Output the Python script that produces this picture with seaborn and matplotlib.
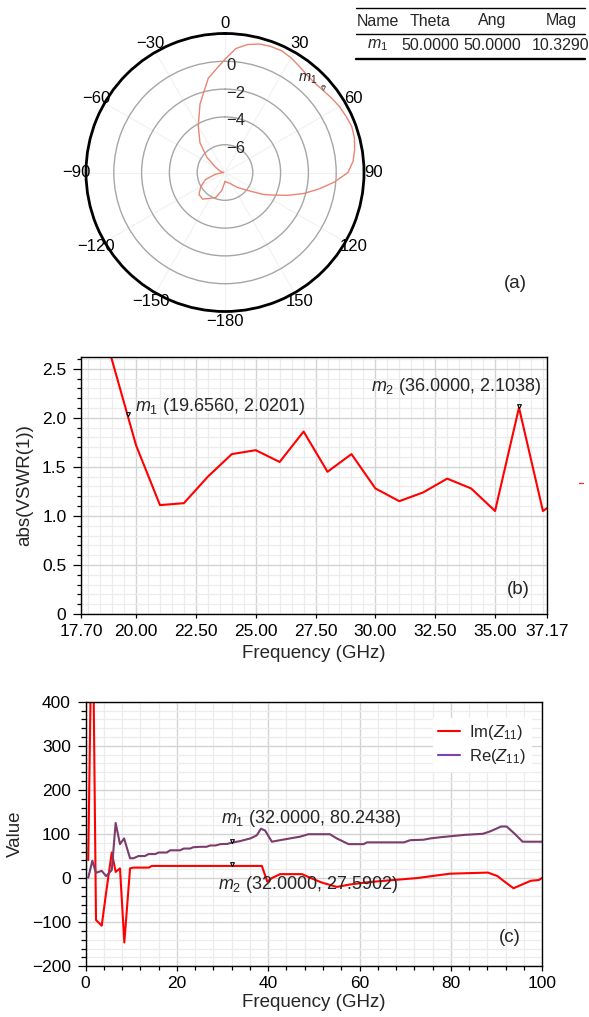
import numpy as np
import pandas as pd
import matplotlib
matplotlib.use("Agg")
import matplotlib.pyplot as plt
from matplotlib.lines import Line2D
from matplotlib.ticker import MultipleLocator
import seaborn as sns

# ---------------- (a) radiation pattern ----------------
pattern_theta = [-180, -170, -160, -150, -140, -130, -120, -110, -100, -90,
                 -80, -70, -60, -50, -40, -30, -20, -10, 0, 5, 10, 15, 20,
                 25, 30, 35, 40, 45, 50, 55, 60, 65, 70, 75, 80, 85, 90, 95,
                 100, 105, 110, 115, 120, 130, 140, 150, 160, 170, 180]
pattern_gain = [-7.35, -6.7, -6.1, -5.85, -5.5, -5.55, -6.0, -6.5, -7.3, -7.9,
                -7.75, -7.55, -7.2, -6.3, -5.2, -4.15, -2.75, -1.1, 0.15, 0.95,
                1.35, 1.57, 1.65, 1.66, 1.52, 1.32, 1.17, 1.12, 1.2, 1.35, 1.5,
                1.6, 1.7, 1.64, 1.47, 1.25, 0.85, -0.1, -1.15, -2.15, -3.2,
                -4.15, -4.85, -6.05, -6.6, -7.0, -7.2, -7.3, -7.35]
pattern_rings = [-6, -4, -2, 0]
pattern_angle_ticks = [0, 30, 60, 90, 120, 150, 180, 210, 240, 270, 300, 330]
pattern_angle_labels = ["0", "30", "60", "90", "120", "150", "\u2212180",
                        "\u2212150", "\u2212120", "\u221290", "\u221260", "\u221230"]

table_columns = ["Name", "Theta", "Ang", "Mag"]
marker_a_name = ["$m_1$"]
marker_a_theta = [50.0]
marker_a_ang = [50.0]
marker_a_mag = [10.3290]

# ---------------- (b) VSWR ----------------
vswr_freq = [18, 19, 20, 21, 22, 23, 24, 25, 26, 27, 28, 29, 30, 31, 32,
             33, 34, 35, 36, 37, 38]
vswr_value = [3.40, 2.585, 1.72, 1.11, 1.13, 1.40, 1.63, 1.67, 1.55, 1.86,
              1.45, 1.63, 1.28, 1.15, 1.24, 1.38, 1.28, 1.05, 2.1038, 1.05, 1.22]
vswr_marker_freq = [19.656, 36.0]
vswr_marker_value = [2.0201, 2.1038]
vswr_xticks = [17.70, 20.00, 22.50, 25.00, 27.50, 30.00, 32.50, 35.00, 37.17]
vswr_yticks = [0, 0.5, 1.0, 1.5, 2.0, 2.5]

# ---------------- (c) input impedance ----------------
im_freq = [0.6, 1.5, 2.3, 3.55, 4.5, 5.75, 6.6, 7.55, 8.5, 9.75, 10.5, 13.9,
           14.5, 38.6, 39.8, 40.8, 42.6, 47.4, 48.8, 51.7, 55.0, 57.9, 61.6,
           66.7, 72.5, 75.4, 79.8, 88.1, 90.2, 91.8, 93.7, 95.7, 97.5, 99.2, 100.0]
im_value = [41, 700, -95, -108, -34, 58, 14, 22, -146, 22, 23.8, 23.8,
            27.6, 27.6, -8, 0, 9, 9, 2.5, -10, -20, -14.5, -9.5, -5, 0, 4,
            10, 12.5, 4.5, -8.5, -23, -14, -6, -4.5, 0.7]
re_freq = [0.6, 1.5, 2.3, 3.55, 4.5, 5.75, 6.6, 7.55, 8.45, 9.75, 10.5, 11.6,
           13.0, 13.8, 15.3, 16.0, 17.8, 18.5, 20.7, 21.5, 22.9, 23.6, 25.1,
           26.5, 27.3, 28.5, 29.5, 31.0, 32.0, 33.9, 36.1, 37.5, 38.4, 39.3,
           40.8, 42.6, 44.8, 47.0, 48.8, 53.5, 55.0, 57.6, 60.9, 61.6, 69.7,
           71.1, 74.0, 75.5, 78.0, 82.0, 83.0, 87.0, 88.6, 91.0, 92.2, 93.9,
           95.7, 100.0]
re_value = [1, 39.5, 12, 16.5, 4.5, 18, 125, 77, 90, 45, 45, 50, 50, 54.5,
            54.5, 58, 58, 63, 63, 67, 67, 70, 71, 71, 74, 74, 77, 77.5, 80.24,
            84, 90, 97, 112, 108, 82.5, 86, 90, 94, 99.5, 99.5, 90, 77, 77, 81,
            81, 86, 87, 90, 93, 97, 98, 100.5, 106, 117, 117, 101, 82.5, 82.5]
z_marker_freq = [32.0, 32.0]
z_marker_value = [80.2438, 27.5902]

# ---------------- styling ----------------
sns.set_theme(style="white")
plt.rcParams["font.family"] = ["Liberation Sans", "DejaVu Sans"]
plt.rcParams["mathtext.fontset"] = "custom"
plt.rcParams["mathtext.rm"] = "Liberation Sans"
plt.rcParams["mathtext.it"] = "Liberation Sans:italic"
plt.rcParams["axes.unicode_minus"] = True

W, H = 589, 1017
fig = plt.figure(figsize=(W / 100, H / 100), dpi=100)
fig.patch.set_facecolor("white")


def box(left, top, right, bottom):
    return [left / W, 1 - bottom / H, (right - left) / W, (bottom - top) / H]


# tip-anchored downward triangle used for the markers
TRI = [(0, 0), (-0.62, 1.25), (0.62, 1.25), (0, 0)]
MAJOR_GRID = "#d3d3d3"
MINOR_GRID = "#ececec"

# ================= (a) polar pattern =================
axp = fig.add_axes(box(86, 33.5, 364, 311.5), projection="polar")
axp.set_theta_zero_location("N")
axp.set_theta_direction(-1)
sns.lineplot(x=np.deg2rad(pattern_theta), y=pattern_gain, ax=axp,
             color="#ea8474", lw=1.0, sort=False)
axp.set_rlim(-8, 2)
axp.set_yticks(pattern_rings)
axp.set_yticklabels([])
axp.set_thetagrids(pattern_angle_ticks, pattern_angle_labels)
axp.yaxis.grid(True, color="#a6a6a6", lw=1.0)
axp.xaxis.grid(True, color="#f1f1f1", lw=0.8)
axp.spines["polar"].set_linewidth(2.0)
axp.spines["polar"].set_color("black")
axp.tick_params(axis="x", direction="in", length=4, width=0.8,
                color="#b5b5b5", pad=0, labelsize=12, labelcolor="black")
axp.set_xlabel("")
axp.set_ylabel("")
for v in pattern_rings:
    axp.annotate(f"{v}".replace("-", "\u2212"), xy=(0, v), xytext=(1, 2.5),
                 textcoords="offset points", ha="left", va="top", fontsize=12)

mk_r = np.interp(marker_a_theta, pattern_theta, pattern_gain)
axp.plot(np.deg2rad(marker_a_theta), mk_r, ls="none", marker=TRI, ms=6,
         mfc="white", mec="#777777", mew=0.8)
for th, r, name in zip(marker_a_theta, mk_r, marker_a_name):
    axp.annotate(name, xy=(np.deg2rad(th), r), xytext=(-11, 8),
                 textcoords="offset points", ha="center", va="center",
                 fontsize=10.5)

fig.text(515 / W, 1 - 283 / H, "(a)", ha="center", va="center", fontsize=13.5)

# marker table
col_x = [378, 430, 492, 561]
for x, txt in zip(col_x, table_columns):
    fig.text(x / W, 1 - 21 / H, txt, ha="center", va="center", fontsize=11.5)
row = [marker_a_name[0], f"{marker_a_theta[0]:.4f}", f"{marker_a_ang[0]:.4f}",
       f"{marker_a_mag[0]:.4f}"]
for x, txt in zip(col_x, row):
    fig.text(x / W, 1 - 45 / H, txt, ha="center", va="center", fontsize=11.5)
for y, lw in [(8.3, 1.0), (34, 1.0), (59, 1.7)]:
    fig.add_artist(Line2D([356 / W, 585 / W], [1 - y / H] * 2, color="black",
                          lw=lw, transform=fig.transFigure))


def style_cartesian(ax, ymajor_len, yminor_len, xmajor_len, xminor_len):
    ax.set_axisbelow(True)
    ax.grid(which="major", color=MAJOR_GRID, lw=1.0)
    ax.grid(which="minor", color=MINOR_GRID, lw=0.9)
    for s in ax.spines.values():
        s.set_color("black")
        s.set_linewidth(1.0)
    ax.tick_params(axis="both", which="both", direction="out", color="black",
                   bottom=True, left=True, top=False, right=False, width=0.9,
                   labelsize=12.5, labelcolor="black")
    ax.tick_params(axis="y", which="major", length=ymajor_len, pad=5)
    ax.tick_params(axis="y", which="minor", length=yminor_len)
    ax.tick_params(axis="x", which="major", length=xmajor_len, pad=4)
    ax.tick_params(axis="x", which="minor", length=xminor_len)


# ================= (b) VSWR =================
axb = fig.add_axes(box(81, 357, 547, 614))
sns.lineplot(x=vswr_freq, y=vswr_value, ax=axb, color="#ff0000", lw=1.5)
axb.set_xlim(17.70, 37.17)
axb.set_ylim(0, 2.62)
axb.set_xticks(vswr_xticks)
axb.set_xticklabels([f"{v:.2f}" for v in vswr_xticks])
axb.set_yticks(vswr_yticks)
axb.set_yticklabels(["0"] + [f"{v:.1f}" for v in vswr_yticks[1:]])
axb.xaxis.set_minor_locator(MultipleLocator(0.5))
axb.yaxis.set_minor_locator(MultipleLocator(0.1))
style_cartesian(axb, 5.5, 3, 3, 0)
axb.set_xlabel("Frequency (GHz)", fontsize=13.5)
axb.set_ylabel("abs(VSWR(1))", fontsize=13.5)
axb.xaxis.set_label_coords(0.5, -0.12)
axb.yaxis.set_label_coords(-0.103, 0.5)
axb.plot(vswr_marker_freq, vswr_marker_value, ls="none", marker=TRI, ms=5.5,
         mfc="white", mec="black", mew=0.8, clip_on=False)
b_offsets = [((5, 6.6), "left"), ((16, 15.5), "right")]
for i, (fx, fy) in enumerate(zip(vswr_marker_freq, vswr_marker_value)):
    off, ha = b_offsets[i]
    axb.annotate(f"$m_{i + 1}$ ({fx:.4f}, {fy:.4f})", xy=(fx, fy), xytext=off,
                 textcoords="offset points", ha=ha, va="center", fontsize=13)
fig.text(518 / W, 1 - 589 / H, "(b)", ha="center", va="center", fontsize=13.5)
# small stray red dash to the right of panel (b)
fig.add_artist(Line2D([579 / W, 583 / W], [1 - 483 / H] * 2, color="#ff2020",
                      lw=0.9, transform=fig.transFigure))

# ================= (c) impedance =================
axc = fig.add_axes(box(85.5, 701.7, 542.3, 966.3))
dfc = pd.concat([
    pd.DataFrame({"freq": im_freq, "value": im_value, "part": "Im"}),
    pd.DataFrame({"freq": re_freq, "value": re_value, "part": "Re"}),
], ignore_index=True)
sns.lineplot(data=dfc, x="freq", y="value", hue="part",
             palette={"Im": "#ff0000", "Re": "#7a3d6d"}, ax=axc, lw=1.5,
             legend=False)
axc.set_xlim(0, 100)
axc.set_ylim(-200, 400)
axc.set_xticks(np.arange(0, 101, 20))
axc.set_yticks(np.arange(-200, 401, 100))
axc.xaxis.set_minor_locator(MultipleLocator(4))
axc.yaxis.set_minor_locator(MultipleLocator(20))
style_cartesian(axc, 5.5, 3.5, 3.3, 3)
axc.set_xlabel("Frequency (GHz)", fontsize=13.5)
axc.set_ylabel("Value", fontsize=13.5)
axc.xaxis.set_label_coords(0.5, -0.103)
axc.yaxis.set_label_coords(-0.135, 0.5)
axc.plot(z_marker_freq, z_marker_value, ls="none", marker=TRI, ms=5.5,
         mfc="white", mec="black", mew=0.8)
c_offsets = [(-7.7, 17.6), (-9.6, -13.7)]
for i, (fx, fy) in enumerate(zip(z_marker_freq, z_marker_value)):
    axc.annotate(f"$m_{i + 1}$ ({fx:.4f}, {fy:.4f})", xy=(fx, fy),
                 xytext=c_offsets[i], textcoords="offset points", ha="left",
                 va="center", fontsize=13)
handles = [Line2D([], [], color="#ff0000", lw=1.5),
           Line2D([], [], color="#7b42b8", lw=1.5)]
leg = axc.legend(handles, ["Im($Z_{11}$)", "Re($Z_{11}$)"], loc="upper left",
                 bbox_to_anchor=(0.761, 0.938), frameon=True,
                 facecolor="white", edgecolor="white", framealpha=1,
                 fontsize=12, handlelength=1.3, handletextpad=0.55,
                 labelspacing=0.3, borderpad=0.3, borderaxespad=0,
                 fancybox=False)
fig.text(509.7 / W, 1 - 937.7 / H, "(c)", ha="center", va="center", fontsize=13.5)

fig.savefig("out.png", dpi=100, facecolor="white")
